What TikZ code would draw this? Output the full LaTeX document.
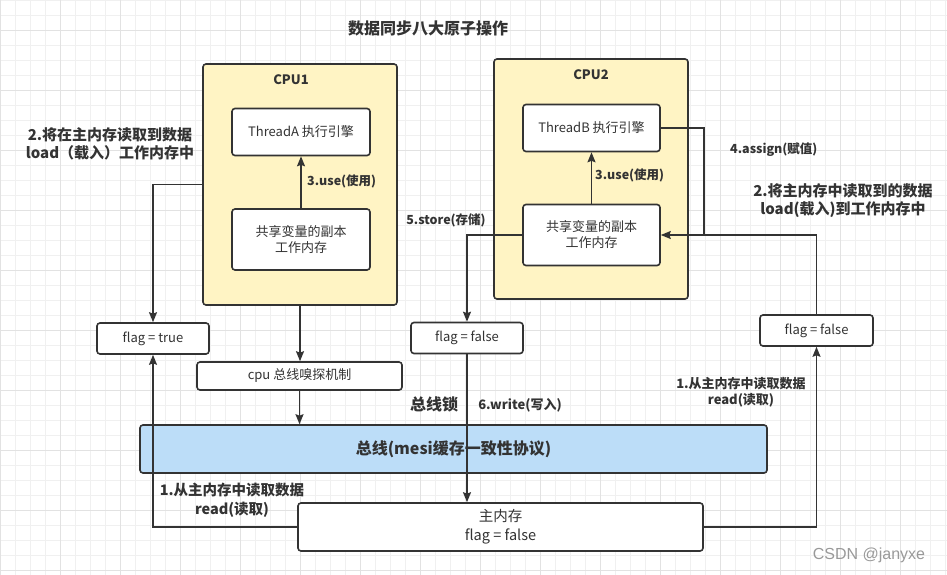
\documentclass[tikz,border=0pt]{standalone}
\usepackage{fontspec}
\setmainfont{Noto Sans CJK SC}
\newfontfamily\csdnfont{Liberation Sans}
\usetikzlibrary{arrows.meta}
\definecolor{ink}{HTML}{333333}
\definecolor{cpuyellow}{HTML}{FFF4C4}
\definecolor{busblue}{HTML}{BCDDF8}
\definecolor{gminor}{HTML}{F0F0F0}
\definecolor{gmajor}{HTML}{E2E2E2}
\tikzset{
  box/.style={draw=ink, line width=1.6pt, rounded corners=3pt, fill=white, inner sep=0pt, align=center, text=ink, font=\fontsize{13}{16}\selectfont},
  cpubox/.style={box, fill=cpuyellow},
  conn/.style={draw=ink, line width=1.6pt},
  arr/.style={conn, -{Stealth[length=10pt,width=8pt,inset=1.5pt]}},
  lbl/.style={text=ink, font=\bfseries\fontsize{15}{18}\selectfont, align=center, inner sep=0pt},
  slbl/.style={text=ink, font=\bfseries\fontsize{12.5}{15}\selectfont, align=center, inner sep=0pt},
}
\begin{document}
\begin{tikzpicture}[x=1pt,y=-1pt]
\useasboundingbox (0,0) rectangle (947,575);
\fill[white] (0,0) rectangle (947,575);
% grid
\foreach \x in {0,15,...,945} \draw[gminor, line width=0.8pt] (\x,0) -- (\x,575);
\foreach \y in {0,15,...,570} \draw[gminor, line width=0.8pt] (0,\y) -- (947,\y);
\foreach \x in {0,60,...,940} \draw[gmajor, line width=0.8pt] (\x,0) -- (\x,575);
\foreach \y in {30,90,...,570} \draw[gmajor, line width=0.8pt] (0,\y) -- (947,\y);

% title
\node[lbl, font=\bfseries\fontsize{16}{19}\selectfont] (title) at (428,28) {数据同步八大原子操作};

% CPU boxes
\node[cpubox, minimum width=194pt, minimum height=241pt] (cpu1) at (300,184.5) {};
\node[lbl, font=\bfseries\fontsize{13}{16}\selectfont] (cpu1t) at (291,80) {CPU1};
\node[cpubox, minimum width=194pt, minimum height=240pt] (cpu2) at (591,179) {};
\node[lbl, font=\bfseries\fontsize{13}{16}\selectfont] (cpu2t) at (591,75) {CPU2};

\node[box, minimum width=138pt, minimum height=47pt] (threadA) at (301,132) {ThreadA 执行引擎};
\node[box, minimum width=138pt, minimum height=61pt] (shA) at (301,239.5) {共享变量的副本\\工作内存};
\node[box, minimum width=137pt, minimum height=47pt] (threadB) at (591.5,128) {ThreadB 执行引擎};
\node[box, minimum width=137pt, minimum height=61pt] (shB) at (591.5,235) {共享变量的副本\\工作内存};

\node[box, minimum width=112pt, minimum height=31pt] (flagT) at (153,338.5) {flag = true};
\node[box, minimum width=205pt, minimum height=28pt] (sniff) at (299.5,376) {cpu 总线嗅探机制};
\node[box, minimum width=112pt, minimum height=31pt] (flagF) at (467,338) {flag = false};
\node[box, minimum width=113pt, minimum height=31pt] (flagR) at (816.5,330.5) {flag = false};

\node[box, fill=busblue, minimum width=627pt, minimum height=48pt, font=\bfseries\fontsize{16}{19}\selectfont] (bus) at (453.5,449) {总线(mesi缓存一致性协议)};
\node[box, minimum width=405pt, minimum height=48pt, font=\fontsize{14.5}{19}\selectfont] (mem) at (500.5,527) {主内存\\flag = false};

% connectors
\draw[arr] (shA.north) -- (threadA.south);
\draw[arr] (shB.north) -- (threadB.south);
\draw[arr] (cpu1.west) -| (flagT.north);
\draw[arr] (cpu1.south) -- (cpu1.south |- sniff.north);
\draw[arr] (sniff.south) -- (sniff.south |- bus.north);
\coordinate (aj) at (704,235);
\draw[conn] (threadB.east) -| (aj);
\draw[conn] (flagR.north) |- (aj);
\draw[arr] (aj) -- (shB.east);
\draw[arr] (shB.west) -| (flagF.north);
\draw[arr] (flagF.south) -- (flagF.south |- mem.north);
\draw[arr] (mem.west) -| (flagT.south);
\draw[arr] (mem.east) -| (flagR.south);

% labels
\node[lbl] (l2a) at (110,143.5) {2.将在主内存读取到数据\\load（载入）工作内存中};
\node[slbl, anchor=west] (l3a) at (307,181) {3.use(使用)};
\node[slbl, anchor=west] (l3b) at (595,175) {3.use(使用)};
\node[slbl, anchor=west] (l4) at (730,150) {4.assign(赋值)};
\node[lbl] (l2b) at (843,200.5) {2.将主内存中读取到的数据\\load(载入)到工作内存中};
\node[slbl] (l5) at (446,220) {5.store(存储)};
\node[lbl, font=\bfseries\fontsize{16}{19}\selectfont] (lock) at (434,404) {总线锁};
\node[slbl, font=\bfseries\fontsize{13}{16}\selectfont] (l6) at (520,405) {6.write(写入)};
\node[slbl, font=\bfseries\fontsize{13}{16}\selectfont] (l1r) at (741,392) {1.从主内存中读取数据\\read(读取)};
\node[lbl, font=\bfseries\fontsize{14.5}{19}\selectfont] (l1l) at (232,500.5) {1.从主内存中读取数据\\read(读取)};
\node[text=gray!80, font=\csdnfont\fontsize{16}{19}\selectfont, inner sep=0pt] (csdn) at (869,555) {CSDN @janyxe};
\end{tikzpicture}
\end{document}
